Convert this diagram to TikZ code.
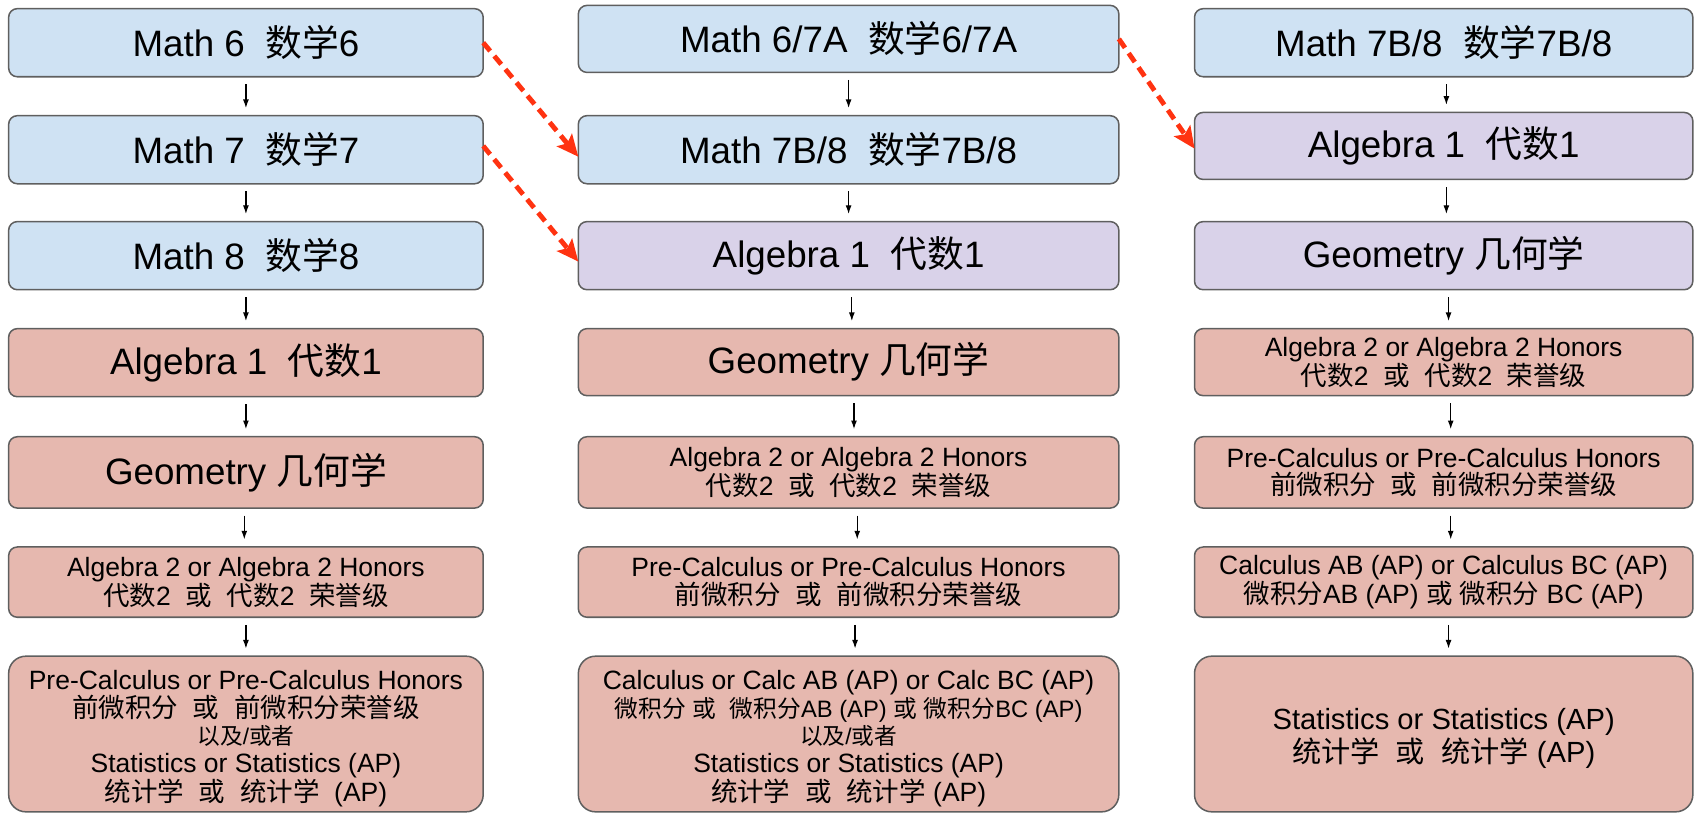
\documentclass[tikz,border=0pt]{standalone}
\usepackage{fontspec}
\setmainfont{Liberation Sans}
\newfontfamily\cjk{Noto Sans CJK SC}
\usetikzlibrary{arrows.meta}
\newcommand\zh[1]{{\cjk #1}}
\newcommand\bigtxt{\fontsize{34}{40}\selectfont}
\newcommand\smtxt{\fontsize{24.5}{25.5}\selectfont}
\newcommand\tinytxt{\fontsize{21}{25.5}\selectfont}
\definecolor{boxblue}{HTML}{CFE2F3}
\definecolor{boxpurple}{HTML}{D9D2E9}
\definecolor{boxpink}{HTML}{E6B8AF}
\definecolor{edgegray}{HTML}{5F5F5F}
\definecolor{jumpred}{HTML}{FF3311}
\tikzset{
  box/.style={draw=edgegray, line width=1.4pt, rounded corners=8pt, inner sep=0pt, outer sep=0pt, align=center},
  bluebox/.style={box, fill=boxblue, font=\bigtxt},
  purplebox/.style={box, fill=boxpurple, font=\bigtxt},
  pinkbox/.style={box, fill=boxpink, font=\smtxt},
  bigfont/.style={font=\bigtxt},
  boxtext/.style={inner sep=0pt, align=center, font=\smtxt},
  colA/.style={minimum width=439pt},
  colB/.style={minimum width=500pt},
  colC/.style={minimum width=461pt},
  tall/.style={rounded corners=16pt, minimum height=144pt},
  flow/.style={-{Latex[length=8pt,width=5.5pt]}, line width=1.1pt, shorten >=7pt, shorten <=7pt},
  jump/.style={draw=jumpred, line width=4.5pt, dash pattern=on 10pt off 6pt, -{Stealth[length=20pt,width=18pt,inset=4pt]}}
}
\begin{document}
\begin{tikzpicture}[x=1pt,y=-1pt]
\useasboundingbox (0,0) rectangle (1568,752);
% column 1
\node[bluebox,colA,minimum height=63pt] (a1) at (227.5,39.5) {Math 6\ \ \zh{数学}6};
\node[bluebox,colA,minimum height=63pt] (a2) at (227.5,138.5) {Math 7\ \ \zh{数学}7};
\node[bluebox,colA,minimum height=63pt] (a3) at (227.5,236.5) {Math 8\ \ \zh{数学}8};
\node[pinkbox,bigfont,colA,minimum height=63pt] (a4) at (227.5,335.5) {Algebra 1\ \ \zh{代数}1};
\node[pinkbox,bigfont,colA,minimum height=66pt] (a5) at (227.5,437) {Geometry \zh{几何学}};
\node[pinkbox,colA,minimum height=65pt] (a6) at (227.5,538.5) {Algebra 2 or Algebra 2 Honors\\\zh{代数}2\ \ \zh{或}\ \ \zh{代数}2\ \ \zh{荣誉级}};
\node[pinkbox,colA,tall] (a7) at (227.5,679) {};
\node[boxtext] (a7t) at ([yshift=-4.5pt]a7.center) {Pre-Calculus or Pre-Calculus Honors\\\zh{前微积分}\ \ \zh{或}\ \ \zh{前微积分荣誉级}\\{\tinytxt\zh{以及}/\zh{或者}}\\Statistics or Statistics (AP)\\\zh{统计学}\ \ \zh{或}\ \ \zh{统计学}\ \ (AP)};
% column 2
\node[bluebox,colB,minimum height=62pt] (b1) at (785,36) {Math 6/7A\ \ \zh{数学}6/7A};
\node[bluebox,colB,minimum height=63pt] (b2) at (785,138.5) {Math 7B/8\ \ \zh{数学}7B/8};
\node[purplebox,colB,minimum height=63pt] (b3) at (785,236.5) {Algebra 1\ \ \zh{代数}1};
\node[pinkbox,bigfont,colB,minimum height=62pt] (b4) at (785,335) {Geometry \zh{几何学}};
\node[pinkbox,colB,minimum height=66pt] (b5) at (785,437) {Algebra 2 or Algebra 2 Honors\\\zh{代数}2\ \ \zh{或}\ \ \zh{代数}2\ \ \zh{荣誉级}};
\node[pinkbox,colB,minimum height=65pt] (b6) at (785,538.5) {Pre-Calculus or Pre-Calculus Honors\\\zh{前微积分}\ \ \zh{或}\ \ \zh{前微积分荣誉级}};
\node[pinkbox,colB,tall] (b7) at (785,679) {};
\node[boxtext] (b7t) at ([yshift=-4.5pt]b7.center) {Calculus or Calc AB (AP) or Calc BC (AP)\\{\fontsize{22}{25.5}\selectfont\zh{微积分} \zh{或}\ \ \zh{微积分}AB (AP) \zh{或} \zh{微积分}BC (AP)}\\{\tinytxt\zh{以及}/\zh{或者}}\\Statistics or Statistics (AP)\\\zh{统计学}\ \ \zh{或}\ \ \zh{统计学} (AP)};
% column 3
\node[bluebox,colC,minimum height=63pt] (c1) at (1335.5,39.5) {Math 7B/8\ \ \zh{数学}7B/8};
\node[purplebox,colC,minimum height=62pt] (c2) at (1335.5,135) {Algebra 1\ \ \zh{代数}1};
\node[purplebox,colC,minimum height=63pt] (c3) at (1335.5,236.5) {Geometry \zh{几何学}};
\node[pinkbox,colC,minimum height=62pt] (c4) at (1335.5,335) {Algebra 2 or Algebra 2 Honors\\\zh{代数}2\ \ \zh{或}\ \ \zh{代数}2\ \ \zh{荣誉级}};
\node[pinkbox,colC,minimum height=66pt] (c5) at (1335.5,437) {Pre-Calculus or Pre-Calculus Honors\\\zh{前微积分}\ \ \zh{或}\ \ \zh{前微积分荣誉级}};
\node[pinkbox,colC,minimum height=65pt] (c6) at (1335.5,538.5) {Calculus AB (AP) or Calculus BC (AP)\\\zh{微积分}AB (AP) \zh{或} \zh{微积分} BC (AP)};
\node[pinkbox,colC,tall] (c7) at (1335.5,679) {};
\node[boxtext,font=\fontsize{27}{30}\selectfont] (c7t) at ([yshift=-4pt]c7.center) {Statistics or Statistics (AP)\\\zh{统计学}\ \ \zh{或}\ \ \zh{统计学} (AP)};
% vertical flow arrows
\draw[flow] (a1) -- (a2);
\draw[flow] (a2) -- (a3);
\draw[flow] (a3) -- (a4);
\draw[flow] (a4) -- (a5);
\draw[flow] ([xshift=-1.5pt]a5.south) -- ([xshift=-1.5pt]a6.north);
\draw[flow] (a6) -- (a7);
\draw[flow] (b1) -- (b2);
\draw[flow] (b2) -- (b3);
\draw[flow] ([xshift=3pt]b3.south) -- ([xshift=3pt]b4.north);
\draw[flow] ([xshift=5pt]b4.south) -- ([xshift=5pt]b5.north);
\draw[flow] ([xshift=8pt]b5.south) -- ([xshift=8pt]b6.north);
\draw[flow] ([xshift=6pt]b6.south) -- ([xshift=6pt]b7.north);
\draw[flow] ([xshift=2.5pt]c1.south) -- ([xshift=2.5pt]c2.north);
\draw[flow] ([xshift=2.5pt]c2.south) -- ([xshift=2.5pt]c3.north);
\draw[flow] ([xshift=4.5pt]c3.south) -- ([xshift=4.5pt]c4.north);
\draw[flow] ([xshift=6.5pt]c4.south) -- ([xshift=6.5pt]c5.north);
\draw[flow] ([xshift=6.5pt]c5.south) -- ([xshift=6.5pt]c6.north);
\draw[flow] ([xshift=4.5pt]c6.south) -- ([xshift=4.5pt]c7.north);
% red dashed jumps
\draw[jump] (a1.east) -- ([yshift=-6.5pt]b2.west);
\draw[jump] ([yshift=3.5pt]a2.east) -- ([yshift=-5.5pt]b3.west);
\draw[jump] (b1.east) -- ([yshift=-2.5pt]c2.west);
\end{tikzpicture}
\end{document}
